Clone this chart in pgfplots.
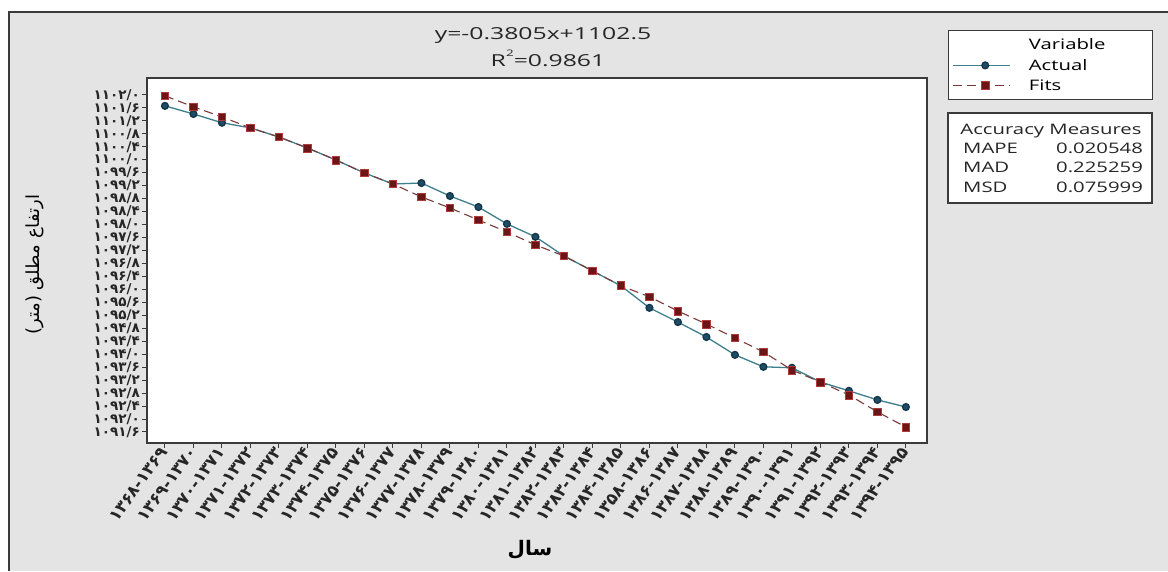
\documentclass[border=0pt]{standalone}
\usepackage{fontspec}
\usepackage{pgfplots}
\pgfplotsset{compat=1.18}
\TeXXeTstate=1
\newfontfamily\lat[FakeStretch=1.4]{Open Sans}
\newfontfamily\latt[FakeStretch=1.5]{Open Sans}
\newfontfamily\fa[Script=Arabic]{DejaVu Sans}
\newfontfamily\fanum{DejaVu Sans}
\definecolor{bggray}{HTML}{E4E4E4}
\definecolor{framec}{HTML}{3A3A3A}
\definecolor{actline}{HTML}{3D7F8C}
\definecolor{actmark}{HTML}{1C4C66}
\definecolor{fitline}{HTML}{7A3A3A}
\definecolor{fitmark}{HTML}{6A1518}
\definecolor{fitedge}{HTML}{B03A3A}
\pgfplotstableread{
x y
1 1101.66
2 1101.41
3 1101.14
4 1100.98
5 1100.70
6 1100.36
7 1099.99
8 1099.59
9 1099.25
10 1099.28
11 1098.88
12 1098.54
13 1098.02
14 1097.62
15 1097.03
16 1096.57
17 1096.11
18 1095.43
19 1094.99
20 1094.53
21 1093.98
22 1093.61
23 1093.58
24 1093.14
25 1092.87
26 1092.59
27 1092.37
}\actual
\pgfplotstableread{
x y
1 1101.97
2 1101.63
3 1101.32
4 1100.98
5 1100.70
6 1100.36
7 1099.99
8 1099.59
9 1099.25
10 1098.85
11 1098.51
12 1098.14
13 1097.77
14 1097.37
15 1097.03
16 1096.57
17 1096.11
18 1095.77
19 1095.33
20 1094.93
21 1094.50
22 1094.07
23 1093.51
24 1093.14
25 1092.74
26 1092.22
27 1091.75
}\fits
\begin{document}
\begin{tikzpicture}
\useasboundingbox (0,0) rectangle (1168pt,571pt);
\fill[white] (0,0) rectangle (1168pt,571pt);
\fill[bggray] (9pt,0) rectangle (1168pt,559pt);
\draw[framec, line width=2pt] (9pt,0) -- (9pt,559pt) -- (1168pt,559pt);
\begin{axis}[
  at={(147pt,128pt)}, anchor=south west,
  scale only axis, width=780pt, height=365pt,
  xmin=0.37, xmax=27.74, ymin=1091.26, ymax=1102.52,
  axis background/.style={fill=white},
  axis line style={framec, line width=1.6pt},
  tick align=outside, xtick pos=bottom, ytick pos=left,
  major tick length=5pt,
  tick style={framec, line width=1pt},
  xtick={1,...,27},
  xticklabels={۱۳۶۸-۱۳۶۹,۱۳۶۹-۱۳۷۰,۱۳۷۰-۱۳۷۱,۱۳۷۱-۱۳۷۲,۱۳۷۲-۱۳۷۳,۱۳۷۳-۱۳۷۴,۱۳۷۴-۱۳۷۵,۱۳۷۵-۱۳۷۶,۱۳۷۶-۱۳۷۷,۱۳۷۷-۱۳۷۸,۱۳۷۸-۱۳۷۹,۱۳۷۹-۱۳۸۰,۱۳۸۰-۱۳۸۱,۱۳۸۱-۱۳۸۲,۱۳۸۲-۱۳۸۳,۱۳۸۳-۱۳۸۴,۱۳۸۴-۱۳۸۵,۱۳۵۸-۱۳۸۶,۱۳۸۶-۱۳۸۷,۱۳۸۷-۱۳۸۸,۱۳۸۸-۱۳۸۹,۱۳۸۹-۱۳۹۰,۱۳۹۰-۱۳۹۱,۱۳۹۱-۱۳۹۲,۱۳۹۲-۱۳۹۳,۱۳۹۳-۱۳۹۴,۱۳۹۴-۱۳۹۵},
  xticklabel style={font=\fanum\bfseries\fontsize{16.5}{18}\selectfont, rotate=54, anchor=east, inner sep=1pt, text=black!85},
  ytick={1091.6,1092.0,1092.4,1092.8,1093.2,1093.6,1094.0,1094.4,1094.8,1095.2,1095.6,1096.0,1096.4,1096.8,1097.2,1097.6,1098.0,1098.4,1098.8,1099.2,1099.6,1100.0,1100.4,1100.8,1101.2,1101.6,1102.0},
  yticklabels={۱۰۹۱/۶,۱۰۹۲/۰,۱۰۹۲/۴,۱۰۹۲/۸,۱۰۹۳/۲,۱۰۹۳/۶,۱۰۹۴/۰,۱۰۹۴/۴,۱۰۹۴/۸,۱۰۹۵/۲,۱۰۹۵/۶,۱۰۹۶/۰,۱۰۹۶/۴,۱۰۹۶/۸,۱۰۹۷/۲,۱۰۹۷/۶,۱۰۹۸/۰,۱۰۹۸/۴,۱۰۹۸/۸,۱۰۹۹/۲,۱۰۹۹/۶,۱۱۰۰/۰,۱۱۰۰/۴,۱۱۰۰/۸,۱۱۰۱/۲,۱۱۰۱/۶,۱۱۰۲/۰},
  yticklabel style={font=\fanum\bfseries\fontsize{13.5}{14}\selectfont, inner xsep=2pt, inner ysep=0pt, text=black!85},
  xlabel={\fa\bfseries\fontsize{20}{22}\selectfont\beginR سال\endR},
  xlabel style={at={(axis description cs:0.491,-0.293)}, anchor=center},
  ylabel={\fa\fontsize{18}{20}\selectfont\beginR ارتفاع مطلق (متر)\endR},
  ylabel style={at={(axis description cs:-0.1436,0.488)}, anchor=center},
  legend style={at={(axis description cs:1.0269,1.1315)}, anchor=north west, draw=framec, line width=1.2pt, fill=white, font=\lat\fontsize{14.5}{16}\selectfont, inner xsep=4pt, inner ysep=6pt, row sep=4pt, column sep=16pt},
  legend cell align=left,
  legend image code/.code={\draw[mark repeat=2,mark phase=2,#1] plot coordinates {(0pt,0pt) (32pt,0pt) (57pt,0pt)};},
]
\addlegendimage{empty legend}
\addlegendentry{\makebox[118pt][l]{Variable}}
\addplot[color=actline, line width=1.3pt, mark=*, mark size=3.4pt, mark options={fill=actmark, draw=actmark!70!black, solid}] table[x=x,y=y] {\actual};
\addlegendentry{Actual}
\addplot[color=fitline, line width=1.1pt, dash pattern=on 9pt off 5pt, mark=square*, mark size=3.9pt, mark options={fill=fitmark, draw=fitedge, solid, line width=0.8pt}] table[x=x,y=y] {\fits};
\addlegendentry{Fits}
\end{axis}
\node[font=\latt\fontsize{16.5}{18}\selectfont, text=black!85] at (543pt,535pt) {y=-0.3805x+1102.5};
\node[font=\latt\fontsize{16.5}{18}\selectfont, text=black!85] at (548pt,513pt) {R\raisebox{0.6em}{\fontsize{9}{9}\selectfont 2}=0.9861};
\draw[framec, line width=1.2pt, fill=white] (948pt,458pt) rectangle (1152pt,368pt);
\begin{scope}[every node/.style={font=\lat\fontsize{14.5}{16}\selectfont, text=black!85, inner sep=0pt}]
\node at (1051pt,440pt) {Accuracy Measures};
\node[anchor=west] at (963pt,423pt) {MAPE};
\node[anchor=west] at (1056pt,423pt) {0.020548};
\node[anchor=west] at (963pt,404pt) {MAD};
\node[anchor=west] at (1056pt,404pt) {0.225259};
\node[anchor=west] at (963pt,384pt) {MSD};
\node[anchor=west] at (1056pt,384pt) {0.075999};
\end{scope}
\end{tikzpicture}
\end{document}
